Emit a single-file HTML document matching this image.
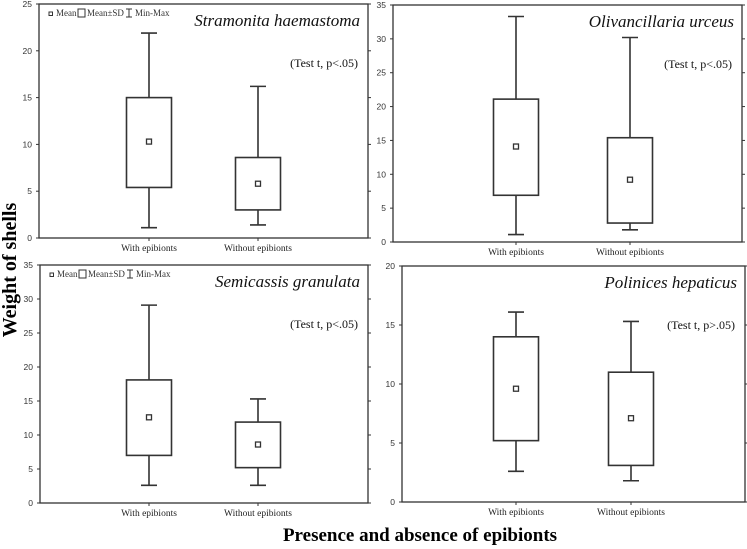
<!DOCTYPE html>
<html><head><meta charset="utf-8"><style>
body{margin:0;background:#fff;}
svg{display:block;font-family:"Liberation Serif",serif;}
</style></head><body>
<svg id="c" width="747" height="549">
<text x="16" y="270" font-size="20" font-weight="bold" text-anchor="middle" transform="rotate(-90 16 270)">Weight of shells</text>
<text x="420" y="541" font-size="19" font-weight="bold" text-anchor="middle">Presence and absence of epibionts</text>
</svg>
<script>
const categories = ["With epibionts", "Without epibionts"];
const speciesNames = ["Stramonita haemastoma", "Olivancillaria urceus", "Semicassis granulata", "Polinices hepaticus"];
const testLabels = ["(Test t, p<.05)", "(Test t, p<.05)", "(Test t, p<.05)", "(Test t, p>.05)"];
const yMaxes = [25, 35, 35, 20];
const yTicks = [[0,5,10,15,20,25],[0,5,10,15,20,25,30,35],[0,5,10,15,20,25,30,35],[0,5,10,15,20]];
const minValues = [[1.1,1.4],[1.1,1.8],[2.6,2.6],[2.6,1.8]];
const maxValues = [[21.9,16.2],[33.3,30.2],[29.1,15.3],[16.1,15.3]];
const sdLow = [[5.4,3.0],[6.9,2.8],[7.0,5.2],[5.2,3.1]];
const sdHigh = [[15.0,8.6],[21.1,15.4],[18.1,11.9],[14.0,11.0]];
const meanValues = [[10.3,5.8],[14.1,9.2],[12.6,8.6],[9.6,7.1]];
const showLegend = [true,false,true,false];

const layout = [
 {l:39,r:368,t:4,b:238,c:[149,258]},
 {l:393,r:742,t:5,b:242,c:[516,630]},
 {l:40,r:368,t:265,b:503,c:[149,258]},
 {l:402,r:745,t:266,b:502,c:[516,631]}
];
const NS="http://www.w3.org/2000/svg";
const svg=document.getElementById('c');
function mk(tag,attrs,parent){const e=document.createElementNS(NS,tag);for(const k in attrs)e.setAttribute(k,attrs[k]);(parent||svg).appendChild(e);return e;}
layout.forEach((L,p)=>{
 const g=mk('g',{});
 
 
 const y=v=>L.b-(v/yMaxes[p])*(L.b-L.t);
 const fr=mk('rect',{x:L.l,y:L.t,width:L.r-L.l,height:L.b-L.t,fill:'none',stroke:'#333','stroke-width':1.3},g);
 
 
 yTicks[p].forEach(v=>{
  mk('line',{x1:L.l-3,x2:L.l,y1:y(v),y2:y(v),stroke:'#333'},g);
  mk('line',{x1:L.r,x2:L.r+3,y1:y(v),y2:y(v),stroke:'#333'},g);
  const t=mk('text',{x:L.l-7,y:y(v)+3,'font-size':8.5,'text-anchor':'end','font-family':'Liberation Sans, sans-serif',fill:'#333'},g);
  t.textContent=v;
  
  
 });
 categories.forEach((cat,i)=>{
  const cx=L.c[i], w=45;
  mk('line',{x1:cx,x2:cx,y1:L.b,y2:L.b+3,stroke:'#333'},g);
  const lab=mk('text',{x:cx,y:L.b+13,'font-size':9.5,'text-anchor':'middle',fill:'#222'},g);
  lab.textContent=cat;
  
  
  const wh=mk('path',{d:`M${cx-8},${y(maxValues[p][i])}H${cx+8}M${cx},${y(maxValues[p][i])}V${y(sdHigh[p][i])}M${cx},${y(sdLow[p][i])}V${y(minValues[p][i])}M${cx-8},${y(minValues[p][i])}H${cx+8}`,stroke:'#333','stroke-width':1.6,fill:'none'},g);
  
  
  const bx=mk('rect',{x:cx-w/2,y:y(sdHigh[p][i]),width:w,height:y(sdLow[p][i])-y(sdHigh[p][i]),fill:'#fff',stroke:'#333','stroke-width':1.6},g);
  
  
  const m=mk('rect',{x:cx-2.5,y:y(meanValues[p][i])-2.5,width:5,height:5,fill:'#fff',stroke:'#333','stroke-width':1.3},g);
  
  
 });
 const sp=mk('text',{x:L.r-8,y:L.t+22,'font-size':17,'font-style':'italic','text-anchor':'end',fill:'#111'},g);
 sp.textContent=speciesNames[p];
 
 
 const tt=mk('text',{x:L.r-10,y:L.t+63,'font-size':12,'text-anchor':'end',fill:'#111'},g);
 tt.textContent=testLabels[p];
 
 
 if(showLegend[p]){
  const lg=mk('g',{},g);
  
  
  const lx=L.l+10, ly=L.t+12;
  mk('rect',{x:lx,y:ly-4,width:3.5,height:3.5,fill:'none',stroke:'#333'},lg);
  const t1=mk('text',{x:lx+7,y:ly,'font-size':9,fill:'#333'},lg);t1.textContent='Mean';
  mk('rect',{x:lx+29,y:ly-7,width:7,height:8,fill:'none',stroke:'#333'},lg);
  const t2=mk('text',{x:lx+38,y:ly,'font-size':9,fill:'#333'},lg);t2.textContent='Mean±SD';
  mk('path',{d:`M${lx+77},${ly-7}h6M${lx+80},${ly-7}v8M${lx+77},${ly+1}h6`,stroke:'#333',fill:'none'},lg);
  const t3=mk('text',{x:lx+86,y:ly,'font-size':9,fill:'#333'},lg);t3.textContent='Min-Max';
 }
});
</script>
</body></html>
